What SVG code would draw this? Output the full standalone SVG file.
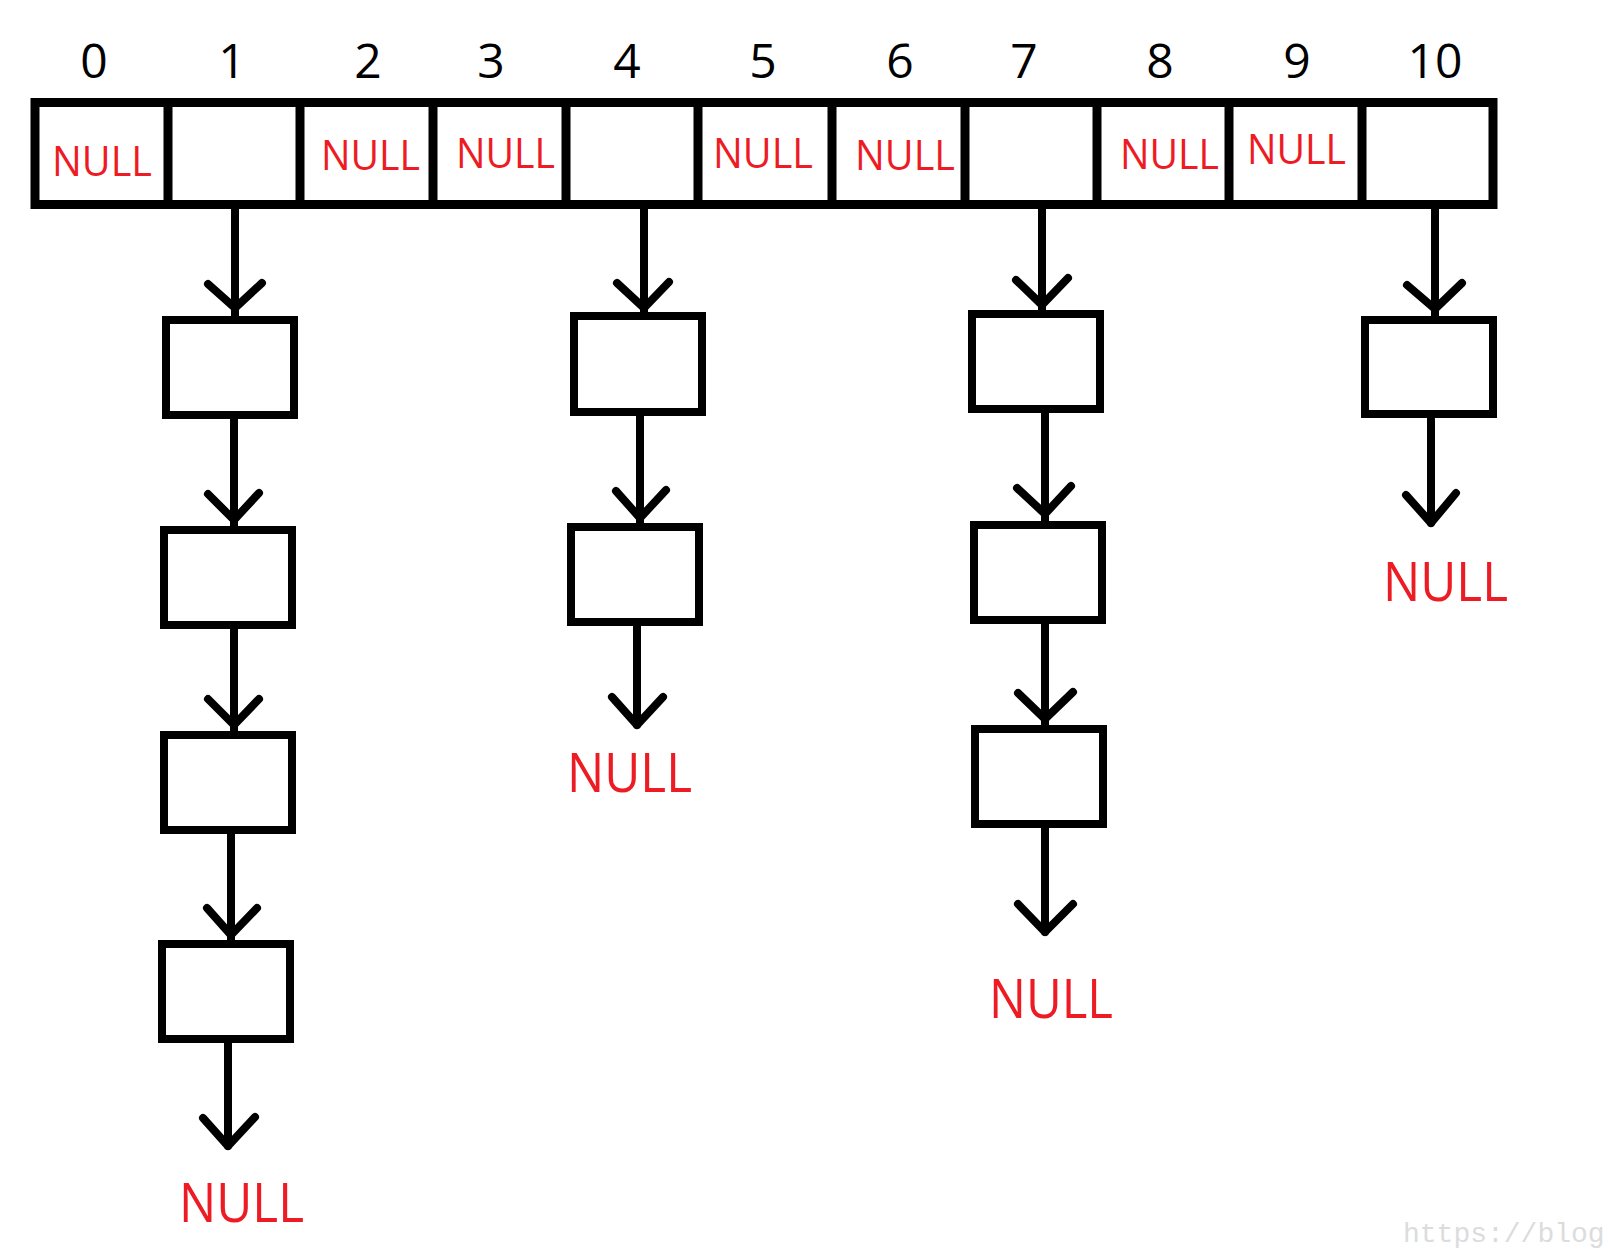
<svg xmlns="http://www.w3.org/2000/svg" width="1612" height="1249" viewBox="0 0 1612 1249">
<style>
.bg{fill:#ffffff}
.arr{fill:#ffffff;stroke:#000000;stroke-width:9}
.div{stroke:#000000;stroke-width:9}
.box{fill:#ffffff;stroke:#000000;stroke-width:8}
.ln{fill:none;stroke:#000000;stroke-width:8;stroke-linecap:round}
.hd{fill:none;stroke:#000000;stroke-width:8;stroke-linecap:round;stroke-linejoin:round}
.idx{font-family:"Open Sans","Noto Sans","Liberation Sans",sans-serif;font-size:48px;fill:#000000;text-anchor:middle}
.cn{font-family:"Open Sans","Noto Sans","Liberation Sans",sans-serif;font-size:42px;fill:#ed1c24}
.bn{font-family:"Open Sans","Noto Sans","Liberation Sans",sans-serif;font-size:54px;fill:#ed1c24}
.wm{font-family:"Liberation Mono",monospace;font-size:28px;fill:#dcdcdc}
</style>
<rect class="bg" x="0" y="0" width="1612" height="1249"/>

<g id="array">
  <rect class="arr" x="35" y="102.5" width="1458" height="102"/>
  <line class="div" x1="168" y1="102" x2="168" y2="205"/>
  <line class="div" x1="300" y1="102" x2="300" y2="205"/>
  <line class="div" x1="433" y1="102" x2="433" y2="205"/>
  <line class="div" x1="566" y1="102" x2="566" y2="205"/>
  <line class="div" x1="698" y1="102" x2="698" y2="205"/>
  <line class="div" x1="832" y1="102" x2="832" y2="205"/>
  <line class="div" x1="965" y1="102" x2="965" y2="205"/>
  <line class="div" x1="1097" y1="102" x2="1097" y2="205"/>
  <line class="div" x1="1229" y1="102" x2="1229" y2="205"/>
  <line class="div" x1="1362" y1="102" x2="1362" y2="205"/>
</g>

<g id="indices">
  <text class="idx" x="94" y="78">0</text>
  <text class="idx" x="232" y="78">1</text>
  <text class="idx" x="368" y="78">2</text>
  <text class="idx" x="491" y="78">3</text>
  <text class="idx" x="627" y="78">4</text>
  <text class="idx" x="763" y="78">5</text>
  <text class="idx" x="900" y="78">6</text>
  <text class="idx" x="1024" y="78">7</text>
  <text class="idx" x="1160" y="78">8</text>
  <text class="idx" x="1297" y="78">9</text>
  <text class="idx" x="1435" y="78">10</text>
</g>

<g id="cell-nulls">
  <text class="cn" x="52" y="176" textLength="100" lengthAdjust="spacingAndGlyphs">NULL</text>
  <text class="cn" x="321" y="170" textLength="99" lengthAdjust="spacingAndGlyphs">NULL</text>
  <text class="cn" x="456" y="168" textLength="99" lengthAdjust="spacingAndGlyphs">NULL</text>
  <text class="cn" x="713" y="168" textLength="100" lengthAdjust="spacingAndGlyphs">NULL</text>
  <text class="cn" x="855" y="170" textLength="100" lengthAdjust="spacingAndGlyphs">NULL</text>
  <text class="cn" x="1120" y="169" textLength="99" lengthAdjust="spacingAndGlyphs">NULL</text>
  <text class="cn" x="1247" y="164" textLength="99" lengthAdjust="spacingAndGlyphs">NULL</text>
</g>

<g id="connectors">
  <line class="ln" x1="235" y1="209" x2="235" y2="318"/>
  <polyline class="hd" points="208,284 235,308 262,283"/>
  <line class="ln" x1="234" y1="419" x2="234" y2="528"/>
  <polyline class="hd" points="208,494 234,520 259,493"/>
  <line class="ln" x1="234" y1="629" x2="234" y2="733"/>
  <polyline class="hd" points="208,699 234,725 259,699"/>
  <line class="ln" x1="231" y1="834" x2="231" y2="942"/>
  <polyline class="hd" points="207,908 231,935 257,908"/>
  <line class="ln" x1="228" y1="1043" x2="228" y2="1146"/>
  <polyline class="hd" points="203,1118 228,1146 255,1117"/>

  <line class="ln" x1="644" y1="209" x2="644" y2="314"/>
  <polyline class="hd" points="617,283 644,308 669,282"/>
  <line class="ln" x1="640" y1="416" x2="640" y2="525"/>
  <polyline class="hd" points="616,491 640,518 666,490"/>
  <line class="ln" x1="637" y1="626" x2="637" y2="725"/>
  <polyline class="hd" points="612,697 637,725 663,697"/>

  <line class="ln" x1="1042" y1="209" x2="1042" y2="312"/>
  <polyline class="hd" points="1016,280 1042,305 1068,278"/>
  <line class="ln" x1="1045" y1="413" x2="1045" y2="523"/>
  <polyline class="hd" points="1017,488 1045,514 1071,486"/>
  <line class="ln" x1="1045" y1="624" x2="1045" y2="727"/>
  <polyline class="hd" points="1018,693 1045,719 1073,692"/>
  <line class="ln" x1="1045" y1="828" x2="1045" y2="932"/>
  <polyline class="hd" points="1018,904 1045,932 1073,904"/>

  <line class="ln" x1="1435" y1="209" x2="1435" y2="318"/>
  <polyline class="hd" points="1407,285 1435,309 1462,283"/>
  <line class="ln" x1="1431" y1="419" x2="1431" y2="523"/>
  <polyline class="hd" points="1406,495 1431,523 1456,493"/>
</g>

<g id="chain1">
  <rect class="box" x="166" y="320" width="128" height="95"/>
  <rect class="box" x="164" y="530" width="128" height="95"/>
  <rect class="box" x="164" y="735" width="128" height="95"/>
  <rect class="box" x="162" y="944" width="128" height="95"/>
</g>
<g id="chain4">
  <rect class="box" x="574" y="316" width="128" height="96"/>
  <rect class="box" x="571" y="527" width="128" height="95"/>
</g>
<g id="chain7">
  <rect class="box" x="972" y="314" width="128" height="95"/>
  <rect class="box" x="974" y="525" width="128" height="95"/>
  <rect class="box" x="975" y="729" width="128" height="95"/>
</g>
<g id="chain10">
  <rect class="box" x="1365" y="320" width="128" height="94"/>
</g>

<g id="end-nulls">
  <text class="bn" x="179" y="1222" textLength="125" lengthAdjust="spacingAndGlyphs">NULL</text>
  <text class="bn" x="567" y="792" textLength="125" lengthAdjust="spacingAndGlyphs">NULL</text>
  <text class="bn" x="989" y="1018" textLength="124" lengthAdjust="spacingAndGlyphs">NULL</text>
  <text class="bn" x="1383" y="601" textLength="125" lengthAdjust="spacingAndGlyphs">NULL</text>
</g>

<text class="wm" x="1403" y="1242">https://blog</text>
</svg>
